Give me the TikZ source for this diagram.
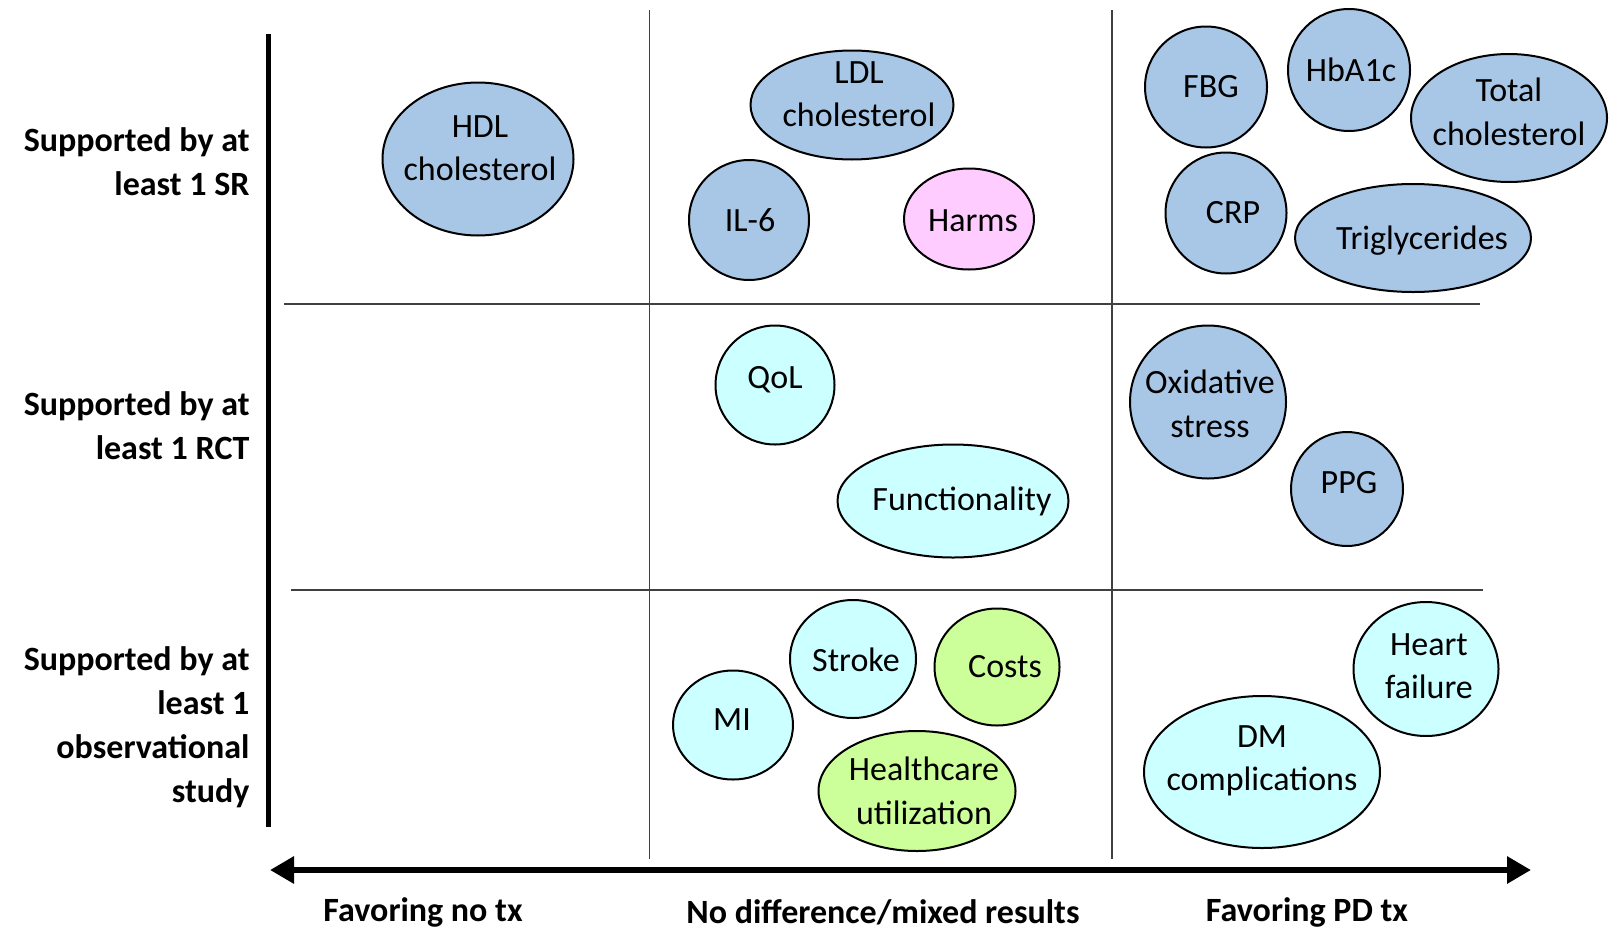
\documentclass[tikz,border=0pt]{standalone}
\usepackage{fontspec}
\setmainfont{Carlito}
\usepackage{tikz}
\usetikzlibrary{arrows.meta,shapes.geometric}
\definecolor{srblue}{RGB}{168,199,230}
\definecolor{lightcyan}{RGB}{204,255,255}
\definecolor{lightpink}{RGB}{255,204,255}
\definecolor{lightgreen}{RGB}{204,255,153}

\begin{document}
\begin{tikzpicture}[
  x=1pt, y=-1pt,
  font=\fontsize{34}{43.5}\selectfont,
  bub/.style={ellipse, draw, line width=2pt, inner sep=0pt},
  rowlab/.style={anchor=east, align=right, font=\fontsize{34}{44}\selectfont\bfseries},
  collab/.style={inner sep=0pt, font=\fontsize{34}{42}\selectfont\bfseries},
  gridline/.style={draw=black!75, line width=1.5pt},
  every label/.style={align=center},
  axisarr/.style={line width=6pt, {Triangle[length=24pt,width=26pt]}-{Triangle[length=24pt,width=26pt]}}
]
\useasboundingbox (0,0) rectangle (1614,929);

\draw[gridline] (649.5,10) -- (649.5,859);
\draw[gridline] (1112,10) -- (1112,859);
\draw[gridline] (284,304) -- (1480,304);
\draw[gridline] (291,590) -- (1483,590);
\draw[line width=5pt] (268,34) -- (268,827);

\coordinate (lend) at (270,870);
\coordinate (rend) at (1531,870);
\draw[axisarr] (lend) -- (rend);

\node[rowlab] (sr) at (253,162) {Supported by at\\least 1 SR};
\node[rowlab] (rct) at (253,426) {Supported by at\\least 1 RCT};
\node[rowlab] (obs) at (253,727) {Supported by at\\least 1\\observational\\study};

\node[collab] (notx) at (423,912) {Favoring no tx};
\node[collab] (nodiff) at (883,912) {No difference/mixed results};
\node[collab] (pdtx) at (1307,912) {Favoring PD tx};

\node[bub, fill=srblue, minimum width=191, minimum height=153,
  label={[shift={(2,-11)}]center:HDL\\cholesterol}] (hdl) at (478,159) {};
\node[bub, fill=srblue, minimum width=203, minimum height=109,
  label={[shift={(7,-11)}]center:LDL\\cholesterol}] (ldl) at (852,105) {};
\node[bub, fill=srblue, minimum width=120, minimum height=120,
  label={[shift={(1,0)}]center:IL-6}] (il6) at (749,220) {};
\node[bub, fill=lightpink, minimum width=130, minimum height=101,
  label={[shift={(4,2)}]center:Harms}] (harms) at (969,219) {};
\node[bub, fill=srblue, minimum width=122, minimum height=121,
  label={[shift={(5,0)}]center:FBG}] (fbg) at (1206,87) {};
\node[bub, fill=srblue, minimum width=122, minimum height=122,
  label={[shift={(2,0)}]center:HbA1c}] (hba1c) at (1349,70) {};
\node[bub, fill=srblue, minimum width=196, minimum height=128,
  label={[shift={(0,-6)}]center:Total\\cholesterol}] (totchol) at (1509,118) {};
\node[bub, fill=srblue, minimum width=121, minimum height=121,
  label={[shift={(7,0)}]center:CRP}] (crp) at (1226,213) {};
\node[bub, fill=srblue, minimum width=236, minimum height=108,
  label={[shift={(9,3)}]center:Triglycerides}] (trig) at (1413,238) {};

\node[bub, fill=lightcyan, minimum width=119, minimum height=119,
  label={[shift={(0,-5)}]center:QoL}] (qol) at (775,385) {};
\node[bub, fill=lightcyan, minimum width=231, minimum height=113,
  label={[shift={(9,0)}]center:Functionality}] (func) at (953,501) {};
\node[bub, fill=srblue, minimum width=156, minimum height=153,
  label={[shift={(2,2)}]center:Oxidative\\stress}] (oxid) at (1208,402) {};
\node[bub, fill=srblue, minimum width=112, minimum height=114,
  label={[shift={(2,-6)}]center:PPG}] (ppg) at (1347,489) {};

\node[bub, fill=lightcyan, minimum width=126, minimum height=118,
  label={[shift={(3,1)}]center:Stroke}] (stroke) at (853,659) {};
\node[bub, fill=lightgreen, minimum width=125, minimum height=117,
  label={[shift={(8,0)}]center:Costs}] (costs) at (997,667) {};
\node[bub, fill=lightcyan, minimum width=120, minimum height=109,
  label={[shift={(-1,-5)}]center:MI}] (mi) at (733,725) {};
\node[bub, fill=lightgreen, minimum width=197, minimum height=120,
  label={[shift={(7,0)}]center:Healthcare\\utilization}] (hcu) at (917,791) {};
\node[bub, fill=lightcyan, minimum width=145, minimum height=134,
  label={[shift={(3,-3)}]center:Heart\\failure}] (hf) at (1426,669) {};
\node[bub, fill=lightcyan, minimum width=236, minimum height=152,
  label={[shift={(0,-11)}]center:DM\\complications}] (dmc) at (1262,772) {};
\end{tikzpicture}
\end{document}
